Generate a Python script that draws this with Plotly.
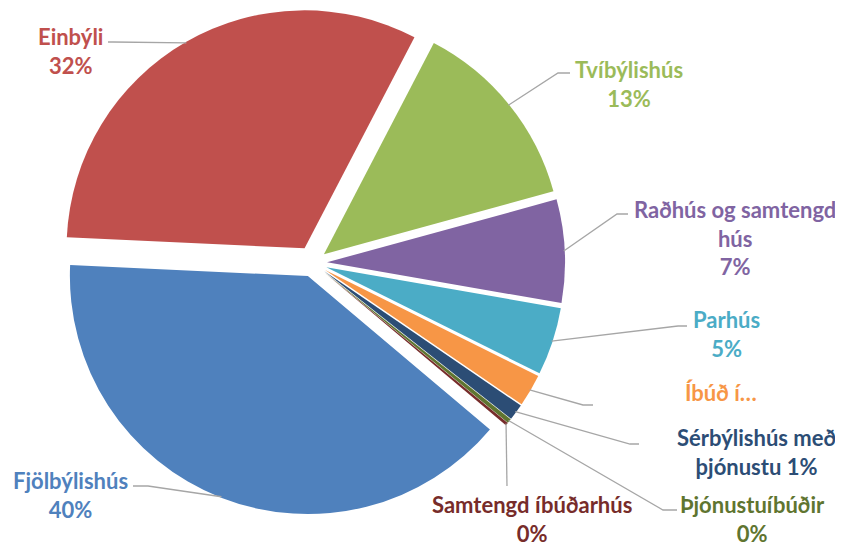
import math
import plotly.graph_objects as go

# ---- data ----
categories = ["Tvíbýlishús", "Raðhús og samtengd hús", "Parhús", "Íbúð í…",
              "Sérbýlishús með þjónustu", "Þjónustuíbúðir", "Samtengd íbúðarhús",
              "Fjölbýlishús", "Einbýli"]
values = [13.1, 7.0, 4.6, 2.2, 1.1, 0.3, 0.2, 39.6, 31.9]
label_templates = ["Tvíbýlishús<br>{p}", "Raðhús og samtengd<br>hús<br>{p}", "Parhús<br>{p}",
                   "Íbúð í…", "Sérbýlishús með<br>þjónustu {p}", "Þjónustuíbúðir<br>{p}",
                   "Samtengd íbúðarhús<br>{p}", "Fjölbýlishús<br>{p}", "Einbýli<br>{p}"]

# ---- styles ----
colors = ["#9BBB59", "#8064A2", "#4BACC6", "#F79646", "#2C4D75", "#5F7530",
          "#772C2A", "#4F81BD", "#C0504D"]
pulls = [0.059, 0.059, 0.059, 0.059, 0.059, 0.059, 0.059, 0.059, 0.071]
rotation = 27.5

PAGE_OFF = 8                      # default body margin of the html page
W, H = 843 - PAGE_OFF, 547 - PAGE_OFF
CX, CY, R = 313.0, 263.0, 238.0   # pie centre / radius in page pixels
maxpull = max(pulls)
half = R * (1 + maxpull)

def px2paper(x, y):
    return (x - PAGE_OFF) / W, 1 - (y - PAGE_OFF) / H

dom_x = [px2paper(CX - half, 0)[0], px2paper(CX + half, 0)[0]]
dom_y = [px2paper(0, CY + half)[1], px2paper(0, CY - half)[1]]

# label layout (page pixel positions): text centre, elbow point, line end
label_pos = [(629, 84), (735, 238), (726, 334), (721, 392), (756, 452),
             (752, 519), (532, 519), (71, 495), (70, 51)]
elbows = [(558, 73), (617, 214), (678, 326), (583, 405), (630, 444),
          (663, 510), (507, 486), (148, 486), (113, 42)]
ends = [(570, 73), (628, 214), (687, 326), (593, 405), (639, 444),
        (677, 510), (507, 486), (133, 486), (108, 42)]

total = sum(values)
fig = go.Figure(go.Pie(
    labels=categories, values=values, sort=False, direction="clockwise",
    rotation=rotation, pull=pulls, textinfo="none", hoverinfo="label+percent",
    marker=dict(colors=colors, line=dict(width=0)),
    domain=dict(x=dom_x, y=dom_y), showlegend=False,
))

shapes = []
annotations = []
cum = 0.0
for i, v in enumerate(values):
    a0 = rotation + cum / total * 360
    cum += v
    a1 = rotation + cum / total * 360
    mid = math.radians((a0 + a1) / 2)
    rr = R * (1 + pulls[i]) - 1
    ex, ey = CX + rr * math.sin(mid), CY - rr * math.cos(mid)
    pts = [px2paper(ex, ey), px2paper(*elbows[i]), px2paper(*ends[i])]
    path = "M {:.5f},{:.5f} L {:.5f},{:.5f} L {:.5f},{:.5f}".format(
        pts[0][0], pts[0][1], pts[1][0], pts[1][1], pts[2][0], pts[2][1])
    shapes.append(dict(type="path", path=path, xref="paper", yref="paper",
                       line=dict(color="#A6A6A6", width=1.3)))
    pct = "{:.0f}%".format(round(v / total * 100))
    tx, ty = px2paper(*label_pos[i])
    annotations.append(dict(
        x=tx, y=ty, xref="paper", yref="paper", showarrow=False,
        xanchor="center", yanchor="middle", align="center", borderpad=0,
        text="<b>" + label_templates[i].format(p=pct) + "</b>",
        font=dict(family="Lato", size=22, color=colors[i])))

fig.update_layout(
    width=W, height=H, margin=dict(l=0, r=0, t=0, b=0),
    paper_bgcolor="white", plot_bgcolor="white",
    shapes=shapes, annotations=annotations,
)
fig.write_html("out.html")
